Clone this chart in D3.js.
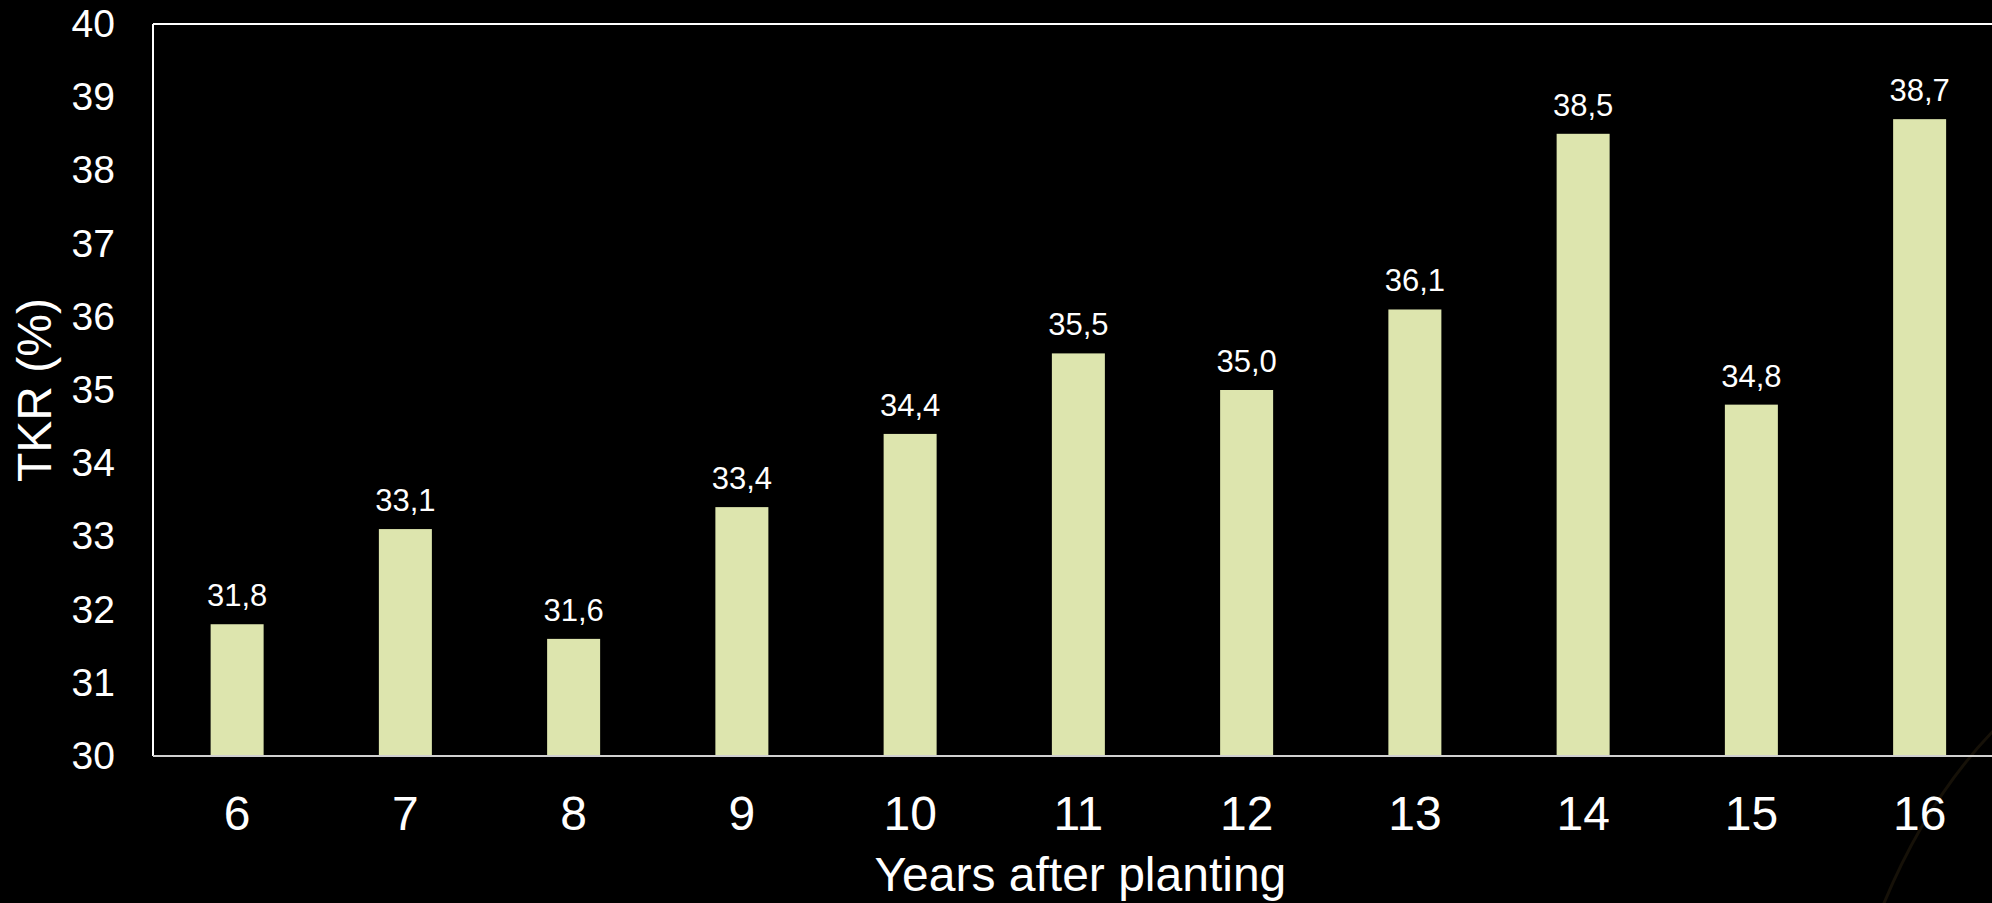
<!DOCTYPE html>
<html>
<head>
<meta charset="utf-8">
<script src="https://cdn.jsdelivr.net/npm/d3@7"></script>
<style>
  html, body { margin: 0; padding: 0; background: #000; overflow: hidden; }
  svg { display: block; }
  text { font-family: "Liberation Sans", Arial, sans-serif; fill: #fff; }
</style>
</head>
<body>
<svg id="chart" width="1992" height="903"></svg>
<script>
const years = ["6", "7", "8", "9", "10", "11", "12", "13", "14", "15", "16"];
const tkr = [31.8, 33.1, 31.6, 33.4, 34.4, 35.5, 35.0, 36.1, 38.5, 34.8, 38.7];
const yTicks = [30, 31, 32, 33, 34, 35, 36, 37, 38, 39, 40];
const yTitle = "TKR (%)";
const xTitle = "Years after planting";

(function () {
const W = 1992, H = 903;
const mLeft = 153, mTop = 24, mBottom = 756;
const step = 168.25;
const mRight = mLeft + step * years.length;

const svg = d3.select("#chart");

svg.append("rect").attr("width", W).attr("height", H).attr("fill", "#000");

// faint decorative arc, bottom right
svg.append("path")
  .attr("d", `M ${W + 10} 722 Q 1928 795 1882 ${H + 5}`)
  .attr("fill", "none").attr("stroke", "#161108").attr("stroke-width", 3);

const x = d3.scaleBand().domain(years).range([mLeft, mRight]).paddingInner(0.685).paddingOuter(0.3425);
const y = d3.scaleLinear().domain([30, 40]).range([mBottom, mTop]);

// bars
svg.append("g").selectAll("rect").data(years).join("rect")
  .attr("x", d => x(d))
  .attr("width", x.bandwidth())
  .attr("y", (d, i) => y(tkr[i]))
  .attr("height", (d, i) => y(30) - y(tkr[i]))
  .attr("fill", "#dde5ae");

// value labels
svg.append("g").selectAll("text").data(years).join("text")
  .attr("x", d => x(d) + x.bandwidth() / 2)
  .attr("y", (d, i) => y(tkr[i]) - 18)
  .attr("text-anchor", "middle")
  .attr("font-size", 31)
  .text((d, i) => tkr[i].toFixed(1).replace(".", ","));

// frame lines
svg.append("line").attr("x1", mLeft).attr("x2", W).attr("y1", mTop).attr("y2", mTop)
  .attr("stroke", "#fff").attr("stroke-width", 2);
svg.append("line").attr("x1", mLeft).attr("x2", mLeft).attr("y1", mTop).attr("y2", mBottom)
  .attr("stroke", "#fff").attr("stroke-width", 2);

// y axis
const yAxis = svg.append("g").attr("transform", `translate(${mLeft},0)`)
  .call(d3.axisLeft(y).tickValues(yTicks).tickSize(0).tickPadding(38).tickFormat(d3.format("d")));
yAxis.select(".domain").remove();
yAxis.selectAll("text").attr("font-size", 39).attr("fill", "#fff")
  .style("font-family", "Liberation Sans, Arial, sans-serif");

// x axis
const xAxis = svg.append("g").attr("transform", `translate(0,${mBottom})`)
  .call(d3.axisBottom(x).tickSize(0).tickPadding(40));
xAxis.select(".domain").attr("stroke", "#d0d0d0").attr("stroke-width", 2)
  .attr("d", `M${mLeft},0H${W}`);
xAxis.selectAll("text").attr("font-size", 48).attr("fill", "#fff")
  .style("font-family", "Liberation Sans, Arial, sans-serif");

// axis titles
svg.append("text")
  .attr("x", (mLeft + mRight) / 2 + 2).attr("y", 891)
  .attr("text-anchor", "middle").attr("font-size", 48)
  .text(xTitle);

svg.append("text")
  .attr("transform", `translate(51,${(mTop + mBottom) / 2}) rotate(-90)`)
  .attr("text-anchor", "middle").attr("font-size", 48)
  .text(yTitle);
})();
</script>
</body>
</html>
